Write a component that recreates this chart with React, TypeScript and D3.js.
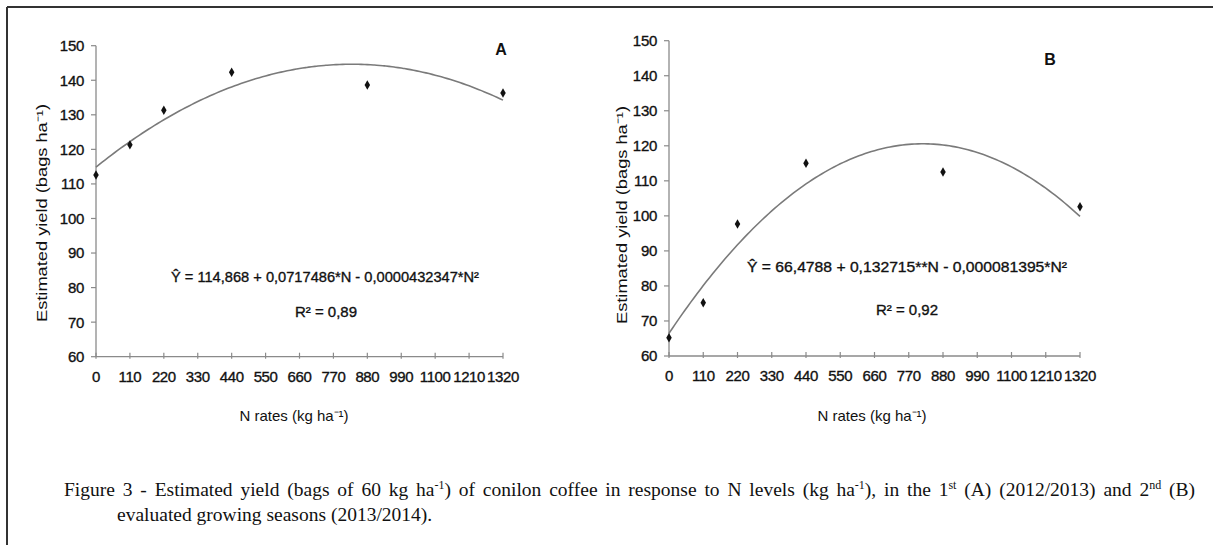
import React, { useLayoutEffect, useRef, useState } from "react";
import * as d3 from "d3";

const nRates = [0, 110, 220, 440, 880, 1320];
const yieldA = [112.6, 121.3, 131.3, 142.3, 138.6, 136.3];
const yieldB = [65.2, 75.2, 97.7, 115.0, 112.5, 102.6];
const coefA = [114.868, 0.0717486, -0.0000432347];
const coefB = [66.4788, 0.132715, -0.000081395];
const xTicks = [0, 110, 220, 330, 440, 550, 660, 770, 880, 990, 1100, 1210, 1320];
const yTicks = [60, 70, 80, 90, 100, 110, 120, 130, 140, 150];

const W = 1213;
const H = 545;
const SANS = "'Liberation Sans', Arial, sans-serif";
const SERIF = "'Liberation Serif', 'Times New Roman', serif";

type PanelProps = {
  x0: number; x1: number; yTop: number; yBot: number;
  values: number[]; coef: number[];
  letter: string; letterX: number; letterY: number;
  eq: string; eqX: number; eqY: number; eqLen: number;
  r2: string; r2X: number; r2Y: number;
  yTitleX: number; yTitleY: number;
  xTitleX: number; xTitleY: number;
};

function Panel(p: PanelProps) {
  const x = d3.scaleLinear().domain([0, 1320]).range([p.x0, p.x1]);
  const y = d3.scaleLinear().domain([60, 150]).range([p.yBot, p.yTop]);
  const curveN = d3.range(0, 1321, 10);
  const line = d3
    .line<number>()
    .x((n) => x(n))
    .y((n) => y(p.coef[0] + p.coef[1] * n + p.coef[2] * n * n))
    .curve(d3.curveMonotoneX);
  const diamond = d3.symbol().type(d3.symbolDiamond).size(26)();
  const axisCol = "#8a8a8a";
  const textCol = "#111";
  const heavy = { stroke: "#111", strokeWidth: 0.35 };
  return (
    <g>
      <line x1={p.x0} x2={p.x0} y1={y(150)} y2={y(60)} stroke={axisCol} strokeWidth={1.3} />
      {yTicks.map((t) => (
        <g key={"y" + t}>
          <line x1={p.x0 - 5} x2={p.x0} y1={y(t)} y2={y(t)} stroke={axisCol} strokeWidth={1.2} />
          <text x={p.x0 - 12} y={y(t)} dy="0.36em" textAnchor="end" fontFamily={SANS} fontSize={15} fill={textCol} {...heavy} style={{ letterSpacing: "-0.3px" }}>
            {t}
          </text>
        </g>
      ))}
      <line x1={p.x0} x2={p.x1} y1={y(60)} y2={y(60)} stroke={axisCol} strokeWidth={1.3} />
      {xTicks.map((t) => (
        <g key={"x" + t}>
          <line x1={x(t)} x2={x(t)} y1={y(60) - 4} y2={y(60) + 2} stroke={axisCol} strokeWidth={1.2} />
          <text x={x(t)} y={y(60) + 20} dy="0.36em" textAnchor="middle" fontFamily={SANS} fontSize={15} fill={textCol} {...heavy} style={{ letterSpacing: "-0.4px" }}>
            {t}
          </text>
        </g>
      ))}
      <path d={line(curveN) || ""} fill="none" stroke="#7a7a7a" strokeWidth={1.6} />
      {nRates.map((n, i) => (
        <path key={"p" + n} d={diamond || ""} transform={`translate(${x(n)},${y(p.values[i])})`} fill="#111" />
      ))}
      <text x={p.letterX} y={p.letterY} dy="0.36em" textAnchor="middle" fontFamily={SANS} fontWeight="bold" fontSize={16} fill="#111">
        {p.letter}
      </text>
      <text x={p.eqX} y={p.eqY} dy="0.36em" textAnchor="middle" fontFamily={SANS} fontSize={15} fill={textCol} {...heavy} textLength={p.eqLen} lengthAdjust="spacingAndGlyphs">
        {p.eq}
      </text>
      <text x={p.r2X} y={p.r2Y} dy="0.36em" textAnchor="middle" fontFamily={SANS} fontSize={15} fill={textCol} {...heavy}>
        {"R² = " + p.r2}
      </text>
      <text transform={`translate(${p.yTitleX},${p.yTitleY}) rotate(-90)`} dy="0.36em" textAnchor="middle" fontFamily={SANS} fontSize={15} fill={textCol} textLength={218} lengthAdjust="spacingAndGlyphs">
        Estimated yield (bags ha⁻¹)
      </text>
      <text x={p.xTitleX} y={p.xTitleY} dy="0.36em" textAnchor="middle" fontFamily={SANS} fontSize={15} fill={textCol}>
        N rates (kg ha⁻¹)
      </text>
    </g>
  );
}

const CAP_WIDTH = 1131;
const CAP_FONT = 19.5;

export default function App() {
  const capRef = useRef<SVGTextElement>(null);
  const [ws, setWs] = useState(0);
  useLayoutEffect(() => {
    const el = capRef.current;
    if (!el) return;
    el.style.wordSpacing = "0px";
    const natural = el.getComputedTextLength();
    const txt = el.textContent || "";
    const spaces = (txt.match(/ /g) || []).length;
    setWs(spaces > 0 ? (CAP_WIDTH - natural) / spaces : 0);
  }, []);
  return (
    <svg width={W} height={H} style={{ position: "absolute", left: 0, top: 0, background: "#fff" }}>
      <rect x={0} y={0} width={W} height={H} fill="#fff" />
      <line x1={7} x2={W} y1={7} y2={7} stroke="#333" strokeWidth={2} />
      <line x1={7} x2={7} y1={7} y2={H} stroke="#333" strokeWidth={2} />
      <Panel
        x0={96} x1={503} yTop={45.7} yBot={356.7}
        values={yieldA} coef={coefA}
        letter="A" letterX={501} letterY={49}
        eq="Ŷ = 114,868 + 0,0717486*N - 0,0000432347*N²" eqX={325} eqY={277} eqLen={308}
        r2="0,89" r2X={326} r2Y={312}
        yTitleX={42} yTitleY={213}
        xTitleX={294} xTitleY={416}
      />
      <Panel
        x0={669} x1={1080} yTop={40.7} yBot={356}
        values={yieldB} coef={coefB}
        letter="B" letterX={1050} letterY={59}
        eq="Ŷ = 66,4788 + 0,132715**N - 0,000081395*N²" eqX={907} eqY={267} eqLen={320}
        r2="0,92" r2X={907} r2Y={310}
        yTitleX={622} yTitleY={215}
        xTitleX={872} xTitleY={416}
      />
      <text ref={capRef} x={64} y={496} fontFamily={SERIF} fontSize={CAP_FONT} fill="#111" style={{ wordSpacing: `${ws}px` }}>
        Figure 3 - Estimated yield (bags of 60 kg ha
        <tspan fontSize={12} dy="-7">-1</tspan>
        <tspan dy="7">) of conilon coffee in response to N levels (kg ha</tspan>
        <tspan fontSize={12} dy="-7">-1</tspan>
        <tspan dy="7">), in the 1</tspan>
        <tspan fontSize={12} dy="-7">st</tspan>
        <tspan dy="7"> (A) (2012/2013) and 2</tspan>
        <tspan fontSize={12} dy="-7">nd</tspan>
        <tspan dy="7"> (B)</tspan>
      </text>
      <text x={117} y={521} fontFamily={SERIF} fontSize={CAP_FONT} fill="#111">
        evaluated growing seasons (2013/2014).
      </text>
    </svg>
  );
}
